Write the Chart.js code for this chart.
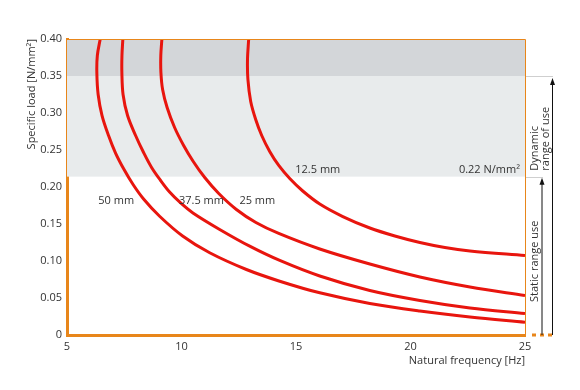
<!DOCTYPE html>
<html>
<head>
<meta charset="utf-8">
<script src="https://cdn.jsdelivr.net/npm/chart.js@4/dist/chart.umd.min.js"></script>
<style>
html,body{margin:0;padding:0;background:#fff;}
#wrap{width:580px;height:390px;}
</style>
</head>
<body>
<div id="wrap"><canvas id="c" width="580" height="390"></canvas></div>
<script>
// ---- data ----
const freq12 = [12.934, 12.882, 12.900, 13.022, 13.240, 13.503, 13.852, 14.246, 14.727, 15.295, 16.038, 17.044, 18.224, 19.317, 20.410, 21.503, 22.596, 25.000];
const load12 = [0.4000, 0.3723, 0.3453, 0.3155, 0.2912, 0.2696, 0.2480, 0.2291, 0.2115, 0.1946, 0.1770, 0.1601, 0.1446, 0.1338, 0.1250, 0.1182, 0.1135, 0.1074];

const freq25 = [9.144, 9.096, 9.101, 9.175, 9.372, 9.699, 10.093, 10.513, 11.015, 11.627, 12.397, 13.249, 14.246, 16.038, 18.224, 20.410, 22.596, 25.000];
const load25 = [0.4000, 0.3777, 0.3547, 0.3318, 0.3074, 0.2804, 0.2561, 0.2345, 0.2128, 0.1912, 0.1696, 0.1520, 0.1372, 0.1162, 0.0959, 0.0784, 0.0649, 0.0534];

const freq37 = [7.439, 7.400, 7.396, 7.448, 7.645, 7.995, 8.344, 8.694, 9.087, 9.481, 9.962, 10.499, 11.667, 12.978, 14.290, 16.038, 18.224, 20.410, 22.596, 25.000];
const load37 = [0.4000, 0.3777, 0.3547, 0.3250, 0.2966, 0.2696, 0.2466, 0.2264, 0.2088, 0.1932, 0.1784, 0.1649, 0.1426, 0.1200, 0.1007, 0.0797, 0.0601, 0.0466, 0.0365, 0.0291];

const freq50 = [6.451, 6.325, 6.303, 6.360, 6.530, 6.814, 7.120, 7.492, 7.885, 8.344, 9.044, 10.049, 11.230, 12.834, 14.290, 16.038, 18.224, 20.410, 22.596, 25.000];
const load50 = [0.4000, 0.3777, 0.3547, 0.3250, 0.2966, 0.2696, 0.2459, 0.2236, 0.2034, 0.1838, 0.1605, 0.1338, 0.1111, 0.0885, 0.0727, 0.0570, 0.0426, 0.0324, 0.0243, 0.0173];

const seriesNames = ['12.5 mm', '25 mm', '37.5 mm', '50 mm'];
const bandLimits = [0.40, 0.35, 0.214];          // dynamic band top, dynamic/static split, static top
const yTickLabels = ['0', '0.05', '0.10', '0.15', '0.20', '0.25', '0.30', '0.35', '0.40'];
const xTickLabels = ['5', '10', '15', '20', '25'];
const loadLabel = '0.22 N/mm²';
const xTitle = 'Natural frequency [Hz]';
const yTitle = 'Specific load [N/mm²]';
const staticText = 'Static range use';
const dynamicText = ['Dynamic', 'range of use'];

// ---- build ----
const toPts = (fx, ly) => fx.map((f, i) => ({x: f, y: ly[i]}));
const RED = '#e8150e';
const ORANGE = '#e8861a';
const TXT = '#333333';
const FONT = "'Open Sans', sans-serif";

const curveSets = [[freq12, load12], [freq25, load25], [freq37, load37], [freq50, load50]];
const datasets = curveSets.map((s, i) => ({
  label: seriesNames[i],
  data: toPts(s[0], s[1]),
  showLine: true,
  borderColor: RED,
  backgroundColor: RED,
  borderWidth: 3,
  pointRadius: 0,
  tension: 0.35,
  fill: false
}));

// label positions in data coordinates (frequency, load)
const labelPos = [[15.95, 0.223], [13.31, 0.181], [10.87, 0.181], [7.15, 0.181]];

const decor = {
  id: 'decor',
  beforeDatasetsDraw(chart) {
    const {ctx, chartArea: a, scales: {y}} = chart;
    ctx.save();
    ctx.fillStyle = '#d3d6d9';
    ctx.fillRect(a.left, y.getPixelForValue(bandLimits[0]), a.right - a.left,
      y.getPixelForValue(bandLimits[1]) - y.getPixelForValue(bandLimits[0]));
    ctx.fillStyle = '#e8ebec';
    ctx.fillRect(a.left, y.getPixelForValue(bandLimits[1]), a.right - a.left,
      y.getPixelForValue(bandLimits[2]) - y.getPixelForValue(bandLimits[1]));
    ctx.restore();
  },
  afterDatasetsDraw(chart) {
    const {ctx, chartArea: a, scales: {x, y}} = chart;
    ctx.save();
    // text labels
    ctx.font = '11px ' + FONT;
    ctx.fillStyle = TXT;
    ctx.textBaseline = 'middle';
    ctx.textAlign = 'center';
    seriesNames.forEach((n, i) => {
      ctx.fillText(n, x.getPixelForValue(labelPos[i][0]), y.getPixelForValue(labelPos[i][1]));
    });
    ctx.textAlign = 'right';
    ctx.fillText(loadLabel, a.right - 5, y.getPixelForValue(labelPos[0][1]));

    // top & right thin frame
    ctx.strokeStyle = ORANGE;
    ctx.lineWidth = 1;
    ctx.beginPath();
    ctx.moveTo(a.left, a.top + 0.5);
    ctx.lineTo(a.right + 0.5, a.top + 0.5);
    ctx.lineTo(a.right + 0.5, a.bottom);
    ctx.stroke();

    // dotted extension of the x axis
    ctx.lineWidth = 3;
    ctx.setLineDash([4, 4]);
    ctx.beginPath();
    ctx.moveTo(a.right + 7, a.bottom);
    ctx.lineTo(a.right + 31, a.bottom);
    ctx.stroke();
    ctx.setLineDash([]);

    // right side range markers
    const yDyn = y.getPixelForValue(bandLimits[1]);
    const yStat = y.getPixelForValue(bandLimits[2]);
    const y0 = y.getPixelForValue(0);
    ctx.strokeStyle = '#cfcfcf';
    ctx.lineWidth = 1;
    ctx.beginPath();
    ctx.moveTo(a.right + 1, Math.round(yDyn) + 0.5);
    ctx.lineTo(a.right + 28, Math.round(yDyn) + 0.5);
    ctx.moveTo(a.right + 1, Math.round(yStat) + 0.5);
    ctx.lineTo(a.right + 18, Math.round(yStat) + 0.5);
    ctx.stroke();

    const arrow = (ax, yTop) => {
      ctx.strokeStyle = '#111';
      ctx.fillStyle = '#111';
      ctx.lineWidth = 1;
      ctx.beginPath();
      ctx.moveTo(ax, y0);
      ctx.lineTo(ax, yTop + 6);
      ctx.stroke();
      ctx.beginPath();
      ctx.moveTo(ax, yTop);
      ctx.lineTo(ax - 2.5, yTop + 7);
      ctx.lineTo(ax + 2.5, yTop + 7);
      ctx.closePath();
      ctx.fill();
    };
    arrow(a.right + 17, yStat + 1);
    arrow(a.right + 27.5, yDyn + 2);

    // rotated texts
    ctx.fillStyle = TXT;
    ctx.font = '11px ' + FONT;
    ctx.textAlign = 'left';
    ctx.textBaseline = 'middle';
    const rot = (t, tx, ty) => {
      ctx.save();
      ctx.translate(tx, ty);
      ctx.rotate(-Math.PI / 2);
      ctx.fillText(t, 0, 0);
      ctx.restore();
    };
    rot(staticText, a.right + 10, 302);
    rot(dynamicText[0], a.right + 10, yStat - 6);
    rot(dynamicText[1], a.right + 20.5, yStat - 6);
    ctx.restore();
  }
};

new Chart(document.getElementById('c'), {
  type: 'scatter',
  data: {datasets},
  options: {
    responsive: false,
    animation: false,
    devicePixelRatio: 1,
    layout: {padding: {left: 0, right: 55, top: 39, bottom: 10}},
    plugins: {legend: {display: false}, tooltip: {enabled: false}},
    scales: {
      x: {
        type: 'linear',
        min: 5, max: 25,
        afterFit: s => { s.height = 45; },
        afterBuildTicks: s => { s.ticks = xTickLabels.map(v => ({value: Number(v)})); },
        grid: {display: false, drawTicks: false},
        border: {display: true, color: ORANGE, width: 3},
        ticks: {
          padding: 5,
          color: TXT,
          font: {family: FONT, size: 11},
          maxRotation: 0,
          callback: (v, i) => xTickLabels[i]
        },
        title: {
          display: true, text: xTitle, align: 'end', color: TXT,
          font: {family: FONT, size: 11}, padding: {top: 0, bottom: 13}
        }
      },
      y: {
        type: 'linear',
        min: 0, max: 0.4,
        afterFit: s => { s.width = 67; },
        afterBuildTicks: s => { s.ticks = yTickLabels.map(v => ({value: Number(v)})); },
        grid: {display: false, drawTicks: false},
        border: {display: true, color: ORANGE, width: 3},
        ticks: {
          padding: 5,
          color: TXT,
          font: {family: FONT, size: 11},
          callback: (v, i) => yTickLabels[i]
        },
        title: {
          display: true, text: yTitle, align: 'end', color: TXT,
          font: {family: FONT, size: 11}, padding: {top: 25, bottom: 0}
        }
      }
    }
  },
  plugins: [decor]
});
</script>
</body>
</html>
